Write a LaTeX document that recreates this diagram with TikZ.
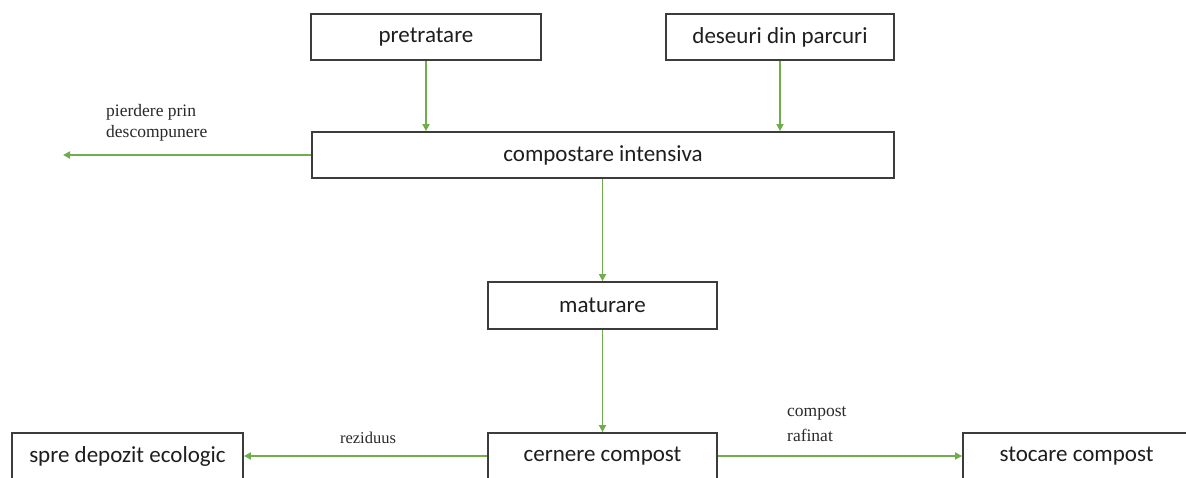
\documentclass[tikz,border=0pt]{standalone}
\usepackage{fontspec}
\setmainfont{Carlito}
\newfontfamily\labelfont{Liberation Serif}
\usetikzlibrary{arrows.meta}
\definecolor{flowgreen}{HTML}{6FAE4A}
\definecolor{boxline}{HTML}{3C3C3C}
\definecolor{boxtext}{HTML}{1E1E1E}
\definecolor{labeltext}{HTML}{2A2A2A}
\tikzset{
  procbox/.style={draw=boxline, line width=1.8pt, fill=white, inner sep=0pt,
    text=boxtext, font=\fontsize{23}{27}\selectfont},
  flowarrow/.style={draw=flowgreen, line width=1.6pt,
    -{Triangle[length=7pt,width=7pt]}},
  flowarrowh/.style={flowarrow, line width=2.2pt},
  flowlabel/.style={text=labeltext, inner sep=0pt, align=left, anchor=west}
}
\begin{document}
\begin{tikzpicture}[x=1pt,y=-1pt]
\useasboundingbox (0,0) rectangle (1186,477);
\clip (0,0) rectangle (1186,477);
\fill[white] (0,0) rectangle (1186,477);

\node[procbox, minimum width=230pt, minimum height=46pt] (pre) at (426,37) {pretratare};
\node[procbox, minimum width=228pt, minimum height=46pt] (des) at (780,37) {deseuri din parcuri};
\node[procbox, minimum width=582pt, minimum height=46pt] (comp) at (603,155) {compostare intensiva};
\node[procbox, minimum width=229pt, minimum height=47pt] (mat) at (602.5,305.5) {maturare};
\node[procbox, minimum width=229pt, minimum height=46pt] (cer) at (602.5,456) {cernere compost};
\node[procbox, minimum width=231pt, minimum height=46pt] (spre) at (127.5,456) {spre depozit ecologic};
\node[procbox, minimum width=300pt, minimum height=46pt] (sto) at (1113,456) {\hspace*{-73pt}stocare compost};

\coordinate (loss) at (63,155);

\draw[flowarrow] (pre.south) -- (pre.south |- comp.north);
\draw[flowarrow] (des.south) -- (des.south |- comp.north);
\draw[flowarrowh] (comp.west) -- (loss);
\draw[flowarrow] (mat.north |- comp.south) -- (mat.north);
\draw[flowarrow] (mat.south) -- (cer.north);
\draw[flowarrowh] (cer.west) -- (spre.east);
\draw[flowarrowh] (cer.east) -- (sto.west);

\node[flowlabel, font=\labelfont\fontsize{17.5}{21}\selectfont] (lblloss) at (106,122.5) {pierdere prin\\descompunere};
\node[flowlabel, font=\labelfont\fontsize{16.5}{20}\selectfont, anchor=center] (lblrez) at (368,438) {reziduus};
\node[flowlabel, font=\labelfont\fontsize{17.5}{25}\selectfont] (lblraf) at (787,424.5) {compost\\rafinat};
\end{tikzpicture}
\end{document}
